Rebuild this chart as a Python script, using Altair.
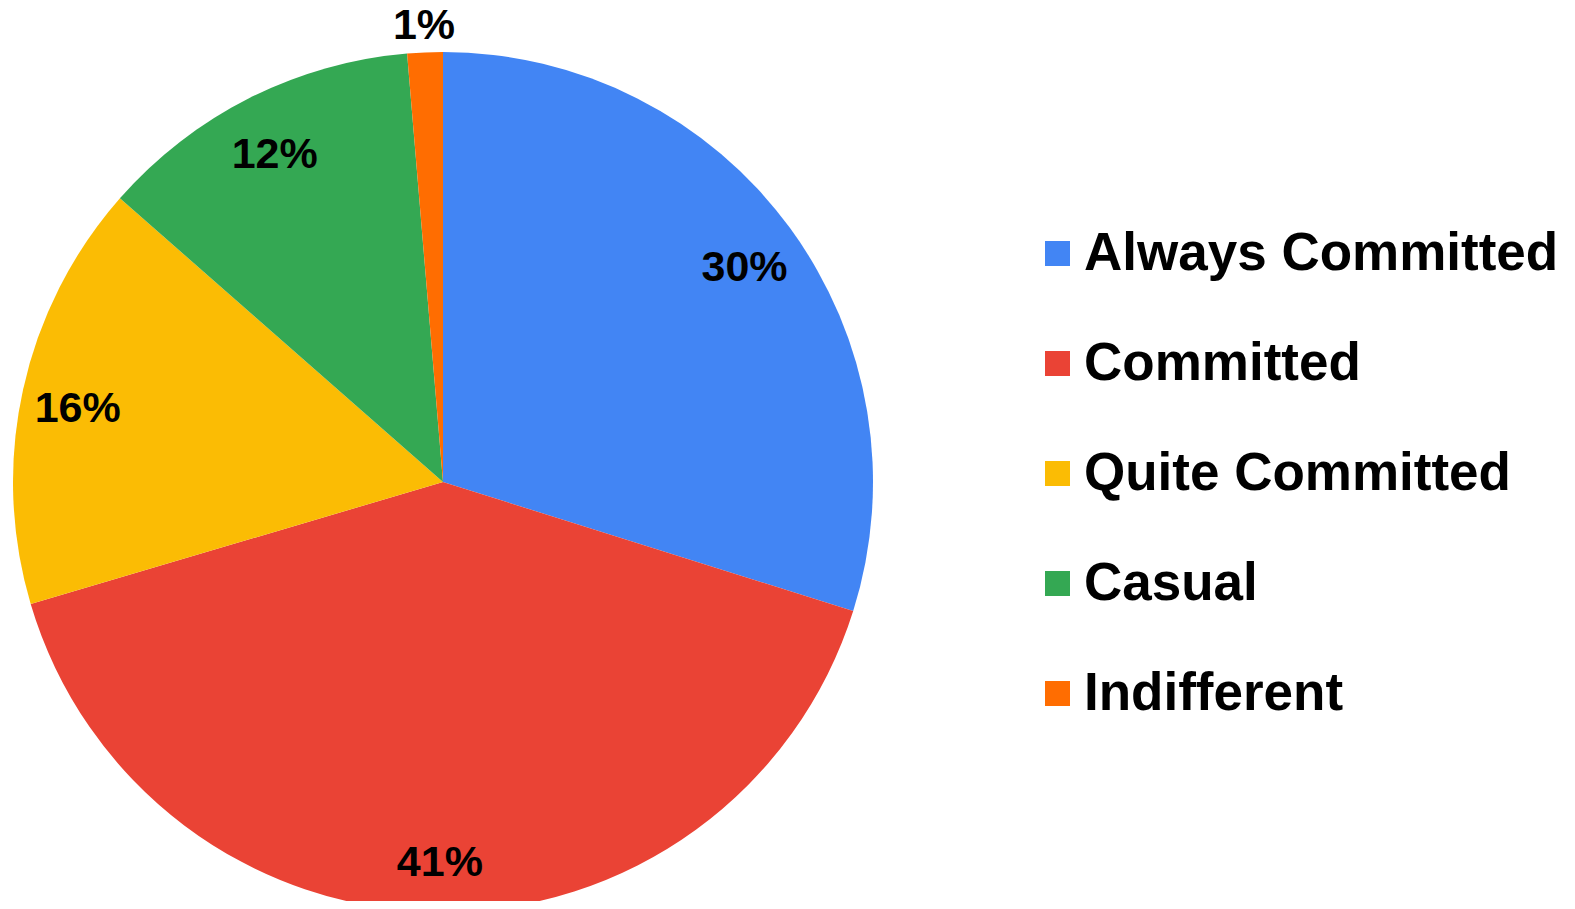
import altair as alt
import pandas as pd

categories = ["Always Committed", "Committed", "Quite Committed", "Casual", "Indifferent"]
values = [29.85, 40.57, 16.05, 12.2, 1.33]
colors = ["#4285F4", "#EA4335", "#FBBC04", "#34A853", "#FF6D01"]

df = pd.DataFrame({"category": categories, "value": values, "order": list(range(len(categories)))})

CX, CY, R = 435, 474, 430
FONT = "Liberation Sans, Arial, sans-serif"

base = alt.Chart(df).transform_joinaggregate(
    total="sum(value)"
).transform_calculate(
    pct="datum.value / datum.total"
).encode(
    theta=alt.Theta("value:Q", stack=True),
    order=alt.Order("order:Q", sort="ascending"),
)

arcs = base.mark_arc(radius=R, strokeWidth=0).encode(
    x=alt.value(CX),
    y=alt.value(CY),
    color=alt.Color(
        "category:N",
        sort=categories,
        scale=alt.Scale(domain=categories, range=colors),
        legend=alt.Legend(
            title=None,
            orient="none",
            legendX=1023,
            legendY=219,
            symbolType="square",
            symbolSize=625,
            symbolStrokeWidth=0,
            labelFont=FONT,
            labelFontSize=53,
            labelFontWeight="bold",
            labelColor="#000000",
            labelOffset=0,
            labelLimit=700,
            rowPadding=56,
            padding=0,
        ),
    ),
)

label_text = alt.Text("pct:Q", format=".0%")

labels_in = base.mark_text(
    radius=374, dy=7, font=FONT, fontSize=43, fontWeight="bold", color="#000000",
    align="center", baseline="middle"
).encode(
    x=alt.value(CX),
    y=alt.value(CY),
    text=alt.condition("datum.value >= 5", label_text, alt.value("")),
)

labels_out = base.mark_text(
    radius=455, dy=-1, font=FONT, fontSize=43, fontWeight="bold", color="#000000",
    align="center", baseline="middle"
).encode(
    x=alt.value(CX),
    y=alt.value(CY),
    text=alt.condition("datum.value < 5", label_text, alt.value("")),
)

chart = alt.layer(arcs, labels_in, labels_out).properties(
    width=1559, height=893, padding=0, background="white",
    autosize=alt.AutoSizeParams(type="none"),
).configure_view(strokeWidth=0, stroke="transparent")

chart.save("out.html", embed_options={"renderer": "svg", "actions": False})
